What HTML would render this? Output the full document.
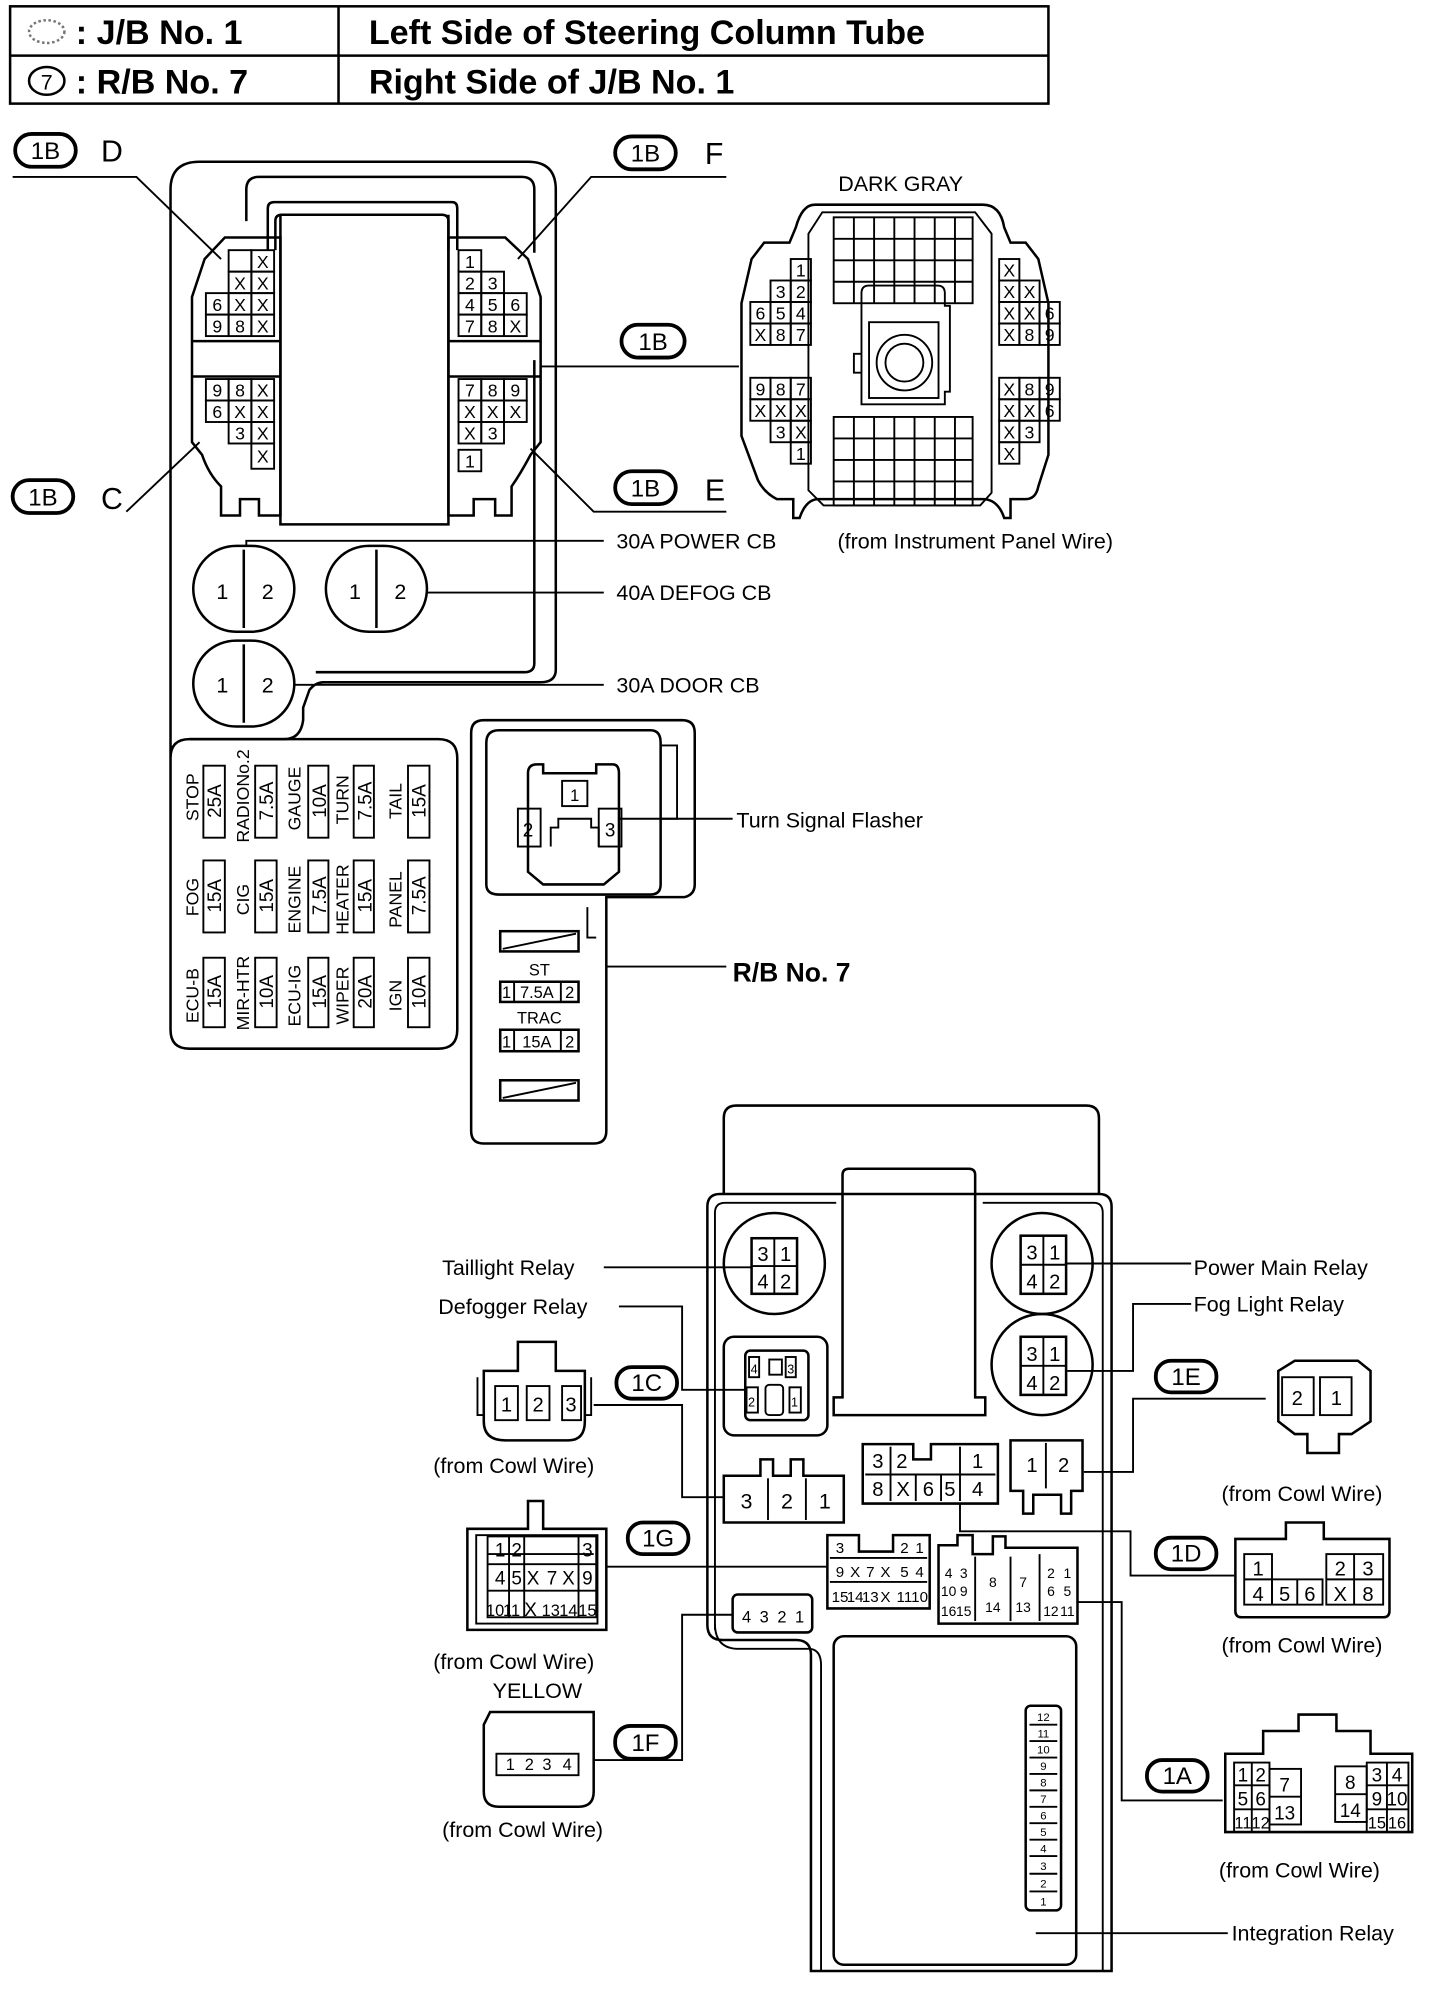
<!DOCTYPE html>
<html><head><meta charset="utf-8"><style>
html,body{margin:0;padding:0;background:#fff}
svg{display:block}
text{font-family:"Liberation Sans",sans-serif;fill:#000}
.b{font-weight:bold}
.c text{font-size:14px;text-anchor:middle}
.s{fill:none;stroke:#000;stroke-width:2}
.t{fill:none;stroke:#000;stroke-width:1.5}
.o{fill:#fff;stroke:#000;stroke-width:3}
.f text{font-size:15px;text-anchor:middle}
</style></head><body>
<svg width="1440" height="1990" viewBox="0 0 1140 1575" preserveAspectRatio="none" xmlns="http://www.w3.org/2000/svg">
<!-- header table -->
<rect x="8" y="5" width="822" height="77" class="s"/>
<line x1="8" y1="44" x2="830" y2="44" class="s"/>
<line x1="268" y1="5" x2="268" y2="82" class="s"/>
<ellipse cx="37" cy="25" rx="14" ry="9" fill="none" stroke="#777" stroke-width="2" stroke-dasharray="2 2"/>
<text x="60" y="35" class="b" font-size="27">: J/B No. 1</text>
<text x="292" y="35" class="b" font-size="27">Left Side of Steering Column Tube</text>
<ellipse cx="37" cy="64" rx="14" ry="11" class="s"/><text x="37" y="71" font-size="17" text-anchor="middle">7</text>
<text x="60" y="74" class="b" font-size="27">: R/B No. 7</text>
<text x="292" y="74" class="b" font-size="27">Right Side of J/B No. 1</text>

<!-- J/B No.1 body -->
<path d="M135,150 Q135,128 158,128 H418 Q440,128 440,150 V530 Q440,540 428,540 H256 Q250,540 245,546 L240,560 V570 Q238,585 225,585 H150" class="s"/>
<path d="M135,150 V815 Q135,830 150,830 H347 Q362,830 362,815 V600 Q362,585 347,585 H150 Q135,585 135,600" class="s"/>
<path d="M195,175 V150 Q195,140 205,140 H413 Q423,140 423,150 V200 M423,285 V525 Q423,532 415,532 H250" class="s"/>
<path d="M212,198 V165 Q212,160 217,160 H358 Q362,160 362,165 V198" class="s"/>
<path d="M218,198 V175 Q218,170 223,170 H350 Q355,170 355,175 V198" class="s"/>
<!-- center white rect -->
<path d="M222,170 V415 H355 V170" class="s"/>
<!-- left connector outline -->
<path d="M178,188 H222 V408 H205 V395 H190 V408 H175 V385 Q165,375 160,360 L152,350 V235 L162,205 Z" class="s"/>
<!-- right connector outline -->
<path d="M355,188 H400 L418,205 L428,235 V350 L420,360 Q412,375 405,385 V408 H392 V395 H375 V408 H355 Z" class="s"/>
<line x1="152" y1="270" x2="222" y2="270" class="s"/><line x1="152" y1="298" x2="222" y2="298" class="s"/>
<line x1="355" y1="270" x2="428" y2="270" class="s"/><line x1="355" y1="298" x2="428" y2="298" class="s"/>
<g class="c">
<!-- left connector cells -->
<rect x="181" y="198" width="18" height="17" class="t"/><rect x="199" y="198" width="18" height="17" class="t"/><text x="208" y="212">X</text>
<rect x="181" y="215" width="18" height="17" class="t"/><text x="190" y="229">X</text><rect x="199" y="215" width="18" height="17" class="t"/><text x="208" y="229">X</text>
<rect x="163" y="232" width="18" height="17" class="t"/><text x="172" y="246">6</text><rect x="181" y="232" width="18" height="17" class="t"/><text x="190" y="246">X</text><rect x="199" y="232" width="18" height="17" class="t"/><text x="208" y="246">X</text>
<rect x="163" y="249" width="18" height="17" class="t"/><text x="172" y="263">9</text><rect x="181" y="249" width="18" height="17" class="t"/><text x="190" y="263">8</text><rect x="199" y="249" width="18" height="17" class="t"/><text x="208" y="263">X</text>
<rect x="163" y="300" width="18" height="17" class="t"/><text x="172" y="314">9</text><rect x="181" y="300" width="18" height="17" class="t"/><text x="190" y="314">8</text><rect x="199" y="300" width="18" height="17" class="t"/><text x="208" y="314">X</text>
<rect x="163" y="317" width="18" height="17" class="t"/><text x="172" y="331">6</text><rect x="181" y="317" width="18" height="17" class="t"/><text x="190" y="331">X</text><rect x="199" y="317" width="18" height="17" class="t"/><text x="208" y="331">X</text>
<rect x="181" y="334" width="18" height="17" class="t"/><text x="190" y="348">3</text><rect x="199" y="334" width="18" height="17" class="t"/><text x="208" y="348">X</text>
<rect x="199" y="351" width="18" height="20" class="t"/><text x="208" y="366">X</text>
<!-- right connector cells -->
<rect x="363" y="198" width="18" height="17" class="t"/><text x="372" y="212">1</text>
<rect x="363" y="215" width="18" height="17" class="t"/><text x="372" y="229">2</text><rect x="381" y="215" width="18" height="17" class="t"/><text x="390" y="229">3</text>
<rect x="363" y="232" width="18" height="17" class="t"/><text x="372" y="246">4</text><rect x="381" y="232" width="18" height="17" class="t"/><text x="390" y="246">5</text><rect x="399" y="232" width="18" height="17" class="t"/><text x="408" y="246">6</text>
<rect x="363" y="249" width="18" height="17" class="t"/><text x="372" y="263">7</text><rect x="381" y="249" width="18" height="17" class="t"/><text x="390" y="263">8</text><rect x="399" y="249" width="18" height="17" class="t"/><text x="408" y="263">X</text>
<rect x="363" y="300" width="18" height="17" class="t"/><text x="372" y="314">7</text><rect x="381" y="300" width="18" height="17" class="t"/><text x="390" y="314">8</text><rect x="399" y="300" width="18" height="17" class="t"/><text x="408" y="314">9</text>
<rect x="363" y="317" width="18" height="17" class="t"/><text x="372" y="331">X</text><rect x="381" y="317" width="18" height="17" class="t"/><text x="390" y="331">X</text><rect x="399" y="317" width="18" height="17" class="t"/><text x="408" y="331">X</text>
<rect x="363" y="334" width="18" height="17" class="t"/><text x="372" y="348">X</text><rect x="381" y="334" width="18" height="17" class="t"/><text x="390" y="348">3</text>
<rect x="363" y="356" width="18" height="17" class="t"/><text x="372" y="370">1</text>
</g>
<!-- 1B labels -->
<rect x="12" y="106" width="48" height="26" rx="13" class="o"/><text x="36" y="126" font-size="19" text-anchor="middle">1B</text><text x="80" y="128" font-size="24">D</text>
<path d="M10,140 H108 L175,205" class="t"/>
<rect x="487" y="108" width="48" height="26" rx="13" class="o"/><text x="511" y="128" font-size="19" text-anchor="middle">1B</text><text x="558" y="130" font-size="24">F</text>
<path d="M575,140 H468 L410,205" class="t"/>
<rect x="10" y="380" width="48" height="26" rx="13" class="o"/><text x="34" y="400" font-size="19" text-anchor="middle">1B</text><text x="80" y="403" font-size="24">C</text>
<path d="M100,405 L158,350" class="t"/>
<rect x="487" y="373" width="48" height="26" rx="13" class="o"/><text x="511" y="393" font-size="19" text-anchor="middle">1B</text><text x="558" y="396" font-size="24">E</text>
<path d="M575,405 H470 L420,355" class="t"/>
<rect x="492" y="257" width="50" height="26" rx="13" class="o"/><text x="517" y="277" font-size="19" text-anchor="middle">1B</text>
<path d="M428,290 H585" class="t"/>

<!-- dark gray connector -->
<text x="713" y="151" font-size="17" text-anchor="middle">DARK GRAY</text>
<path d="M645,162 H778 Q792,162 795,180 L800,192 H812 L822,205 L830,240 V360 L822,385 Q820,395 812,395 H800 V410 H795 Q790,395 778,395 H648 Q638,395 633,410 H628 V395 H615 Q605,390 600,380 L587,345 V240 L595,205 L605,192 H625 L630,180 Q635,162 645,162 Z" class="s"/>
<path d="M651,168 H772 L785,185 V390 L776,400 H652 L640,388 V185 Z" class="t"/>
<g class="t">
<rect x="660" y="172" width="110" height="68"/><line x1="676" y1="172" x2="676" y2="240"/><line x1="692" y1="172" x2="692" y2="240"/><line x1="708" y1="172" x2="708" y2="240"/><line x1="724" y1="172" x2="724" y2="240"/><line x1="740" y1="172" x2="740" y2="240"/><line x1="756" y1="172" x2="756" y2="240"/><line x1="660" y1="189" x2="770" y2="189"/><line x1="660" y1="206" x2="770" y2="206"/><line x1="660" y1="223" x2="770" y2="223"/>
<rect x="660" y="330" width="110" height="70"/><line x1="676" y1="330" x2="676" y2="400"/><line x1="692" y1="330" x2="692" y2="400"/><line x1="708" y1="330" x2="708" y2="400"/><line x1="724" y1="330" x2="724" y2="400"/><line x1="740" y1="330" x2="740" y2="400"/><line x1="756" y1="330" x2="756" y2="400"/><line x1="660" y1="347" x2="770" y2="347"/><line x1="660" y1="364" x2="770" y2="364"/><line x1="660" y1="381" x2="770" y2="381"/>
<path d="M682,320 V232 Q682,226 688,226 H742 Q748,226 748,232 V242 H752 V310 H748 V320 Z"/>
<rect x="688" y="255" width="55" height="60"/>
<circle cx="716" cy="287" r="22"/><circle cx="716" cy="287" r="15"/>
<path d="M682,280 H676 V295 H682"/>
</g>
<g class="c">
<rect x="626" y="205" width="16" height="17" class="t"/><text x="634" y="219">1</text>
<rect x="610" y="222" width="16" height="17" class="t"/><text x="618" y="236">3</text><rect x="626" y="222" width="16" height="17" class="t"/><text x="634" y="236">2</text>
<rect x="594" y="239" width="16" height="17" class="t"/><text x="602" y="253">6</text><rect x="610" y="239" width="16" height="17" class="t"/><text x="618" y="253">5</text><rect x="626" y="239" width="16" height="17" class="t"/><text x="634" y="253">4</text>
<rect x="594" y="256" width="16" height="17" class="t"/><text x="602" y="270">X</text><rect x="610" y="256" width="16" height="17" class="t"/><text x="618" y="270">8</text><rect x="626" y="256" width="16" height="17" class="t"/><text x="634" y="270">7</text>
<rect x="594" y="299" width="16" height="17" class="t"/><text x="602" y="313">9</text><rect x="610" y="299" width="16" height="17" class="t"/><text x="618" y="313">8</text><rect x="626" y="299" width="16" height="17" class="t"/><text x="634" y="313">7</text>
<rect x="594" y="316" width="16" height="17" class="t"/><text x="602" y="330">X</text><rect x="610" y="316" width="16" height="17" class="t"/><text x="618" y="330">X</text><rect x="626" y="316" width="16" height="17" class="t"/><text x="634" y="330">X</text>
<rect x="610" y="333" width="16" height="17" class="t"/><text x="618" y="347">3</text><rect x="626" y="333" width="16" height="17" class="t"/><text x="634" y="347">X</text>
<rect x="626" y="350" width="16" height="17" class="t"/><text x="634" y="364">1</text>
<rect x="791" y="205" width="16" height="17" class="t"/><text x="799" y="219">X</text>
<rect x="791" y="222" width="16" height="17" class="t"/><text x="799" y="236">X</text><rect x="807" y="222" width="16" height="17" class="t"/><text x="815" y="236">X</text>
<rect x="791" y="239" width="16" height="17" class="t"/><text x="799" y="253">X</text><rect x="807" y="239" width="16" height="17" class="t"/><text x="815" y="253">X</text><rect x="823" y="239" width="16" height="17" class="t"/><text x="831" y="253">6</text>
<rect x="791" y="256" width="16" height="17" class="t"/><text x="799" y="270">X</text><rect x="807" y="256" width="16" height="17" class="t"/><text x="815" y="270">8</text><rect x="823" y="256" width="16" height="17" class="t"/><text x="831" y="270">9</text>
<rect x="791" y="299" width="16" height="17" class="t"/><text x="799" y="313">X</text><rect x="807" y="299" width="16" height="17" class="t"/><text x="815" y="313">8</text><rect x="823" y="299" width="16" height="17" class="t"/><text x="831" y="313">9</text>
<rect x="791" y="316" width="16" height="17" class="t"/><text x="799" y="330">X</text><rect x="807" y="316" width="16" height="17" class="t"/><text x="815" y="330">X</text><rect x="823" y="316" width="16" height="17" class="t"/><text x="831" y="330">6</text>
<rect x="791" y="333" width="16" height="17" class="t"/><text x="799" y="347">X</text><rect x="807" y="333" width="16" height="17" class="t"/><text x="815" y="347">3</text>
<rect x="791" y="350" width="16" height="17" class="t"/><text x="799" y="364">X</text>
</g>
<text x="663" y="434" font-size="17">(from Instrument Panel Wire)</text>

<!-- circuit breakers -->
<g class="s">
<rect x="153" y="432" width="80" height="68" rx="34"/><line x1="193" y1="435" x2="193" y2="497"/>
<rect x="258" y="432" width="80" height="68" rx="34"/><line x1="298" y1="435" x2="298" y2="497"/>
<rect x="153" y="507" width="80" height="68" rx="34"/><line x1="193" y1="510" x2="193" y2="572"/>
</g>
<g font-size="17" text-anchor="middle">
<text x="176" y="474">1</text><text x="212" y="474">2</text><text x="281" y="474">1</text><text x="317" y="474">2</text>
<text x="176" y="548">1</text><text x="212" y="548">2</text>
</g>
<path d="M195,432 V428 H478" class="t"/><path d="M338,469 H478" class="t"/><path d="M233,542 H478" class="t"/>
<text x="488" y="434" font-size="17">30A POWER CB</text>
<text x="488" y="475" font-size="17">40A DEFOG CB</text>
<text x="488" y="548" font-size="17">30A DOOR CB</text>

<!-- fuses -->
<g class="t">
<rect x="161" y="606" width="17" height="57"/><rect x="202" y="606" width="17" height="57"/><rect x="244" y="606" width="16" height="57"/><rect x="280" y="606" width="16" height="57"/><rect x="323" y="606" width="17" height="57"/>
<rect x="161" y="681" width="17" height="57"/><rect x="202" y="681" width="17" height="57"/><rect x="244" y="681" width="16" height="57"/><rect x="280" y="681" width="16" height="57"/><rect x="323" y="681" width="17" height="57"/>
<rect x="161" y="758" width="17" height="55"/><rect x="202" y="758" width="17" height="55"/><rect x="244" y="758" width="16" height="55"/><rect x="280" y="758" width="16" height="55"/><rect x="323" y="758" width="17" height="55"/>
</g>
<g class="f">
<text transform="translate(175,634) rotate(-90)">25A</text><text transform="translate(216,634) rotate(-90)">7.5A</text><text transform="translate(258,634) rotate(-90)">10A</text><text transform="translate(294,634) rotate(-90)">7.5A</text><text transform="translate(337,634) rotate(-90)">15A</text>
<text transform="translate(175,709) rotate(-90)">15A</text><text transform="translate(216,709) rotate(-90)">15A</text><text transform="translate(258,709) rotate(-90)">7.5A</text><text transform="translate(294,709) rotate(-90)">15A</text><text transform="translate(337,709) rotate(-90)">7.5A</text>
<text transform="translate(175,785) rotate(-90)">15A</text><text transform="translate(216,785) rotate(-90)">10A</text><text transform="translate(258,785) rotate(-90)">15A</text><text transform="translate(294,785) rotate(-90)">20A</text><text transform="translate(337,785) rotate(-90)">10A</text>
</g>
<g font-size="14" text-anchor="middle">
<text transform="translate(157,631) rotate(-90)">STOP</text><text transform="translate(197,630) rotate(-90)">RADIONo.2</text><text transform="translate(238,632) rotate(-90)">GAUGE</text><text transform="translate(276,633) rotate(-90)">TURN</text><text transform="translate(318,634) rotate(-90)">TAIL</text>
<text transform="translate(157,710) rotate(-90)">FOG</text><text transform="translate(197,712) rotate(-90)">CIG</text><text transform="translate(238,712) rotate(-90)">ENGINE</text><text transform="translate(276,712) rotate(-90)">HEATER</text><text transform="translate(318,712) rotate(-90)">PANEL</text>
<text transform="translate(157,788) rotate(-90)">ECU-B</text><text transform="translate(197,786) rotate(-90)">MIR-HTR</text><text transform="translate(238,788) rotate(-90)">ECU-IG</text><text transform="translate(276,788) rotate(-90)">WIPER</text><text transform="translate(318,788) rotate(-90)">IGN</text>
</g>

<!-- R/B No.7 -->
<path d="M373,580 Q373,570 383,570 H540 Q550,570 550,580 V700 Q550,708 542,710 H480 V895 Q480,905 470,905 H383 Q373,905 373,895 Z" class="s"/>
<path d="M385,588 Q385,578 395,578 H515 Q523,578 523,588 V700 Q523,708 515,708 H395 Q385,708 385,700 Z" class="s"/>
<path d="M523,590 H536 V648 H523" class="t"/><path d="M465,718 V742 H472" class="t"/>
<path d="M418,612 Q418,605 425,605 H430 V612 H472 V605 H485 Q490,605 490,612 V690 L478,700 H430 L418,690 Z" class="s"/>
<rect x="410" y="640" width="18" height="30" class="t"/><text x="418" y="662" font-size="15" text-anchor="middle">2</text>
<rect x="474" y="640" width="18" height="30" class="t"/><text x="483" y="662" font-size="15" text-anchor="middle">3</text>
<rect x="445" y="618" width="20" height="20" class="t"/><text x="455" y="634" font-size="13" text-anchor="middle">1</text>
<path d="M436,670 V655 H442 V648 H468 V655 H474 V670" class="t"/>
<path d="M490,648 H580" class="t"/><text x="583" y="655" font-size="17">Turn Signal Flasher</text>
<rect x="396" y="737" width="62" height="16" class="s"/><line x1="398" y1="751" x2="456" y2="739" class="t"/>
<text x="427" y="772" font-size="13" text-anchor="middle">ST</text>
<rect x="396" y="777" width="62" height="16" class="s"/><line x1="407" y1="777" x2="407" y2="793" class="t"/><line x1="444" y1="777" x2="444" y2="793" class="t"/>
<text x="401" y="790" font-size="13" text-anchor="middle">1</text><text x="425" y="790" font-size="13" text-anchor="middle">7.5A</text><text x="451" y="790" font-size="13" text-anchor="middle">2</text>
<text x="427" y="810" font-size="13" text-anchor="middle">TRAC</text>
<rect x="396" y="815" width="62" height="17" class="s"/><line x1="407" y1="815" x2="407" y2="832" class="t"/><line x1="444" y1="815" x2="444" y2="832" class="t"/>
<text x="401" y="829" font-size="13" text-anchor="middle">1</text><text x="425" y="829" font-size="13" text-anchor="middle">15A</text><text x="451" y="829" font-size="13" text-anchor="middle">2</text>
<rect x="396" y="855" width="62" height="16" class="s"/><line x1="398" y1="869" x2="456" y2="857" class="t"/>
<path d="M480,765 H575" class="t"/><text x="580" y="777" class="b" font-size="21">R/B No. 7</text>

<!-- lower J/B -->
<path d="M573,945 V885 Q573,875 583,875 H860 Q870,875 870,885 V945" class="s"/>
<path d="M560,955 Q560,945 570,945 H870 Q880,945 880,955 V1560 H642 V1310 Q642,1298 630,1298 H572 Q560,1298 560,1286 Z" class="s"/>
<path d="M566,1290 V960 Q566,952 574,952 H662 M778,952 H866 Q873,952 873,960 V1560" class="t"/>
<path d="M566,1285 Q566,1305 585,1305 H640 Q650,1305 650,1318 V1560" class="t"/>
<path d="M667,1106 V930 Q667,925 672,925 H767 Q772,925 772,930 V1106 H780 V1120 H660 V1106 Z" class="s"/>
<rect x="660" y="1295" width="192" height="260" rx="8" class="s"/>
<rect x="660" y="1295" width="192" height="255" rx="8" class="t" transform="translate(5,5) scale(0.99)" opacity="0"/>
<!-- relays circles -->
<circle cx="613" cy="1000" r="40" class="s"/>
<rect x="595" y="980" width="36" height="44" class="s"/><line x1="613" y1="980" x2="613" y2="1024" class="t"/><line x1="595" y1="1002" x2="631" y2="1002" class="t"/>
<text x="604" y="998" font-size="16" text-anchor="middle">3</text><text x="622" y="998" font-size="16" text-anchor="middle">1</text><text x="604" y="1020" font-size="16" text-anchor="middle">4</text><text x="622" y="1020" font-size="16" text-anchor="middle">2</text>
<circle cx="825" cy="1000" r="40" class="s"/>
<rect x="808" y="978" width="36" height="46" class="s"/><line x1="826" y1="978" x2="826" y2="1024" class="t"/><line x1="808" y1="1001" x2="844" y2="1001" class="t"/>
<text x="817" y="997" font-size="16" text-anchor="middle">3</text><text x="835" y="997" font-size="16" text-anchor="middle">1</text><text x="817" y="1020" font-size="16" text-anchor="middle">4</text><text x="835" y="1020" font-size="16" text-anchor="middle">2</text>
<circle cx="825" cy="1080" r="40" class="s"/>
<rect x="808" y="1058" width="36" height="46" class="s"/><line x1="826" y1="1058" x2="826" y2="1104" class="t"/><line x1="808" y1="1081" x2="844" y2="1081" class="t"/>
<text x="817" y="1077" font-size="16" text-anchor="middle">3</text><text x="835" y="1077" font-size="16" text-anchor="middle">1</text><text x="817" y="1100" font-size="16" text-anchor="middle">4</text><text x="835" y="1100" font-size="16" text-anchor="middle">2</text>
<!-- defogger relay -->
<rect x="573" y="1058" width="82" height="78" rx="8" class="s"/>
<rect x="590" y="1069" width="50" height="55" rx="4" class="s"/>
<rect x="593" y="1074" width="8" height="16" class="t"/><text x="597" y="1087" font-size="10" text-anchor="middle">4</text>
<rect x="609" y="1076" width="10" height="12" class="t"/>
<rect x="622" y="1074" width="8" height="16" class="t"/><text x="626" y="1087" font-size="10" text-anchor="middle">3</text>
<rect x="591" y="1098" width="9" height="20" class="t"/><text x="595" y="1113" font-size="10" text-anchor="middle">2</text>
<rect x="606" y="1096" width="14" height="24" rx="3" class="t"/>
<rect x="625" y="1098" width="9" height="20" class="t"/><text x="629" y="1113" font-size="10" text-anchor="middle">1</text>
<!-- 1C connector in box -->
<path d="M573,1168 H602 V1155 H612 V1168 H626 V1155 H636 V1168 H668 V1205 H573 Z" class="s"/>
<line x1="608" y1="1170" x2="608" y2="1203" class="t"/><line x1="638" y1="1170" x2="638" y2="1203" class="t"/>
<text x="591" y="1194" font-size="17" text-anchor="middle">3</text><text x="623" y="1194" font-size="17" text-anchor="middle">2</text><text x="653" y="1194" font-size="17" text-anchor="middle">1</text>
<!-- 1D connector in box -->
<path d="M683,1143 H723 V1155 H737 V1143 H790 V1190 H683 Z" class="s"/>
<line x1="685" y1="1167" x2="788" y2="1167" class="t"/><line x1="705" y1="1145" x2="705" y2="1188" class="t"/><line x1="725" y1="1167" x2="725" y2="1188" class="t"/><line x1="745" y1="1167" x2="745" y2="1188" class="t"/><line x1="760" y1="1145" x2="760" y2="1188" class="t"/>
<g font-size="16" text-anchor="middle"><text x="695" y="1162">3</text><text x="714" y="1162">2</text><text x="774" y="1162">1</text>
<text x="695" y="1184">8</text><text x="715" y="1184">X</text><text x="735" y="1184">6</text><text x="752" y="1184">5</text><text x="774" y="1184">4</text></g>
<!-- 1E socket -->
<path d="M800,1140 H857 V1180 H848 V1198 H840 V1183 H818 V1198 H810 V1180 H800 Z" class="s"/>
<line x1="828" y1="1142" x2="828" y2="1178" class="t"/>
<text x="817" y="1165" font-size="16" text-anchor="middle">1</text><text x="842" y="1165" font-size="16" text-anchor="middle">2</text>
<!-- 1G socket -->
<path d="M655,1215 H680 V1228 H707 V1215 H736 V1273 H655 Z" class="s"/>
<line x1="657" y1="1233" x2="734" y2="1233" class="t"/><line x1="657" y1="1252" x2="734" y2="1252" class="t"/>
<g font-size="12" text-anchor="middle"><text x="665" y="1229">3</text><text x="716" y="1229">2</text><text x="728" y="1229">1</text>
<text x="665" y="1248">9</text><text x="677" y="1248">X</text><text x="689" y="1248">7</text><text x="701" y="1248">X</text><text x="716" y="1248">5</text><text x="728" y="1248">4</text>
<text x="665" y="1268">15</text><text x="677" y="1268">14</text><text x="689" y="1268">13</text><text x="701" y="1268">X</text><text x="716" y="1268">11</text><text x="728" y="1268">10</text></g>
<!-- 1A socket -->
<path d="M743,1223 H758 V1215 H770 V1230 H786 V1216 H796 V1225 H853 V1285 H743 Z" class="s"/>
<line x1="772" y1="1232" x2="772" y2="1283" class="t"/><line x1="800" y1="1232" x2="800" y2="1283" class="t"/><line x1="823" y1="1230" x2="823" y2="1283" class="t"/>
<g font-size="11" text-anchor="middle"><text x="751" y="1249">4</text><text x="763" y="1249">3</text><text x="786" y="1256">8</text><text x="810" y="1256">7</text><text x="832" y="1249">2</text><text x="845" y="1249">1</text>
<text x="751" y="1263">10</text><text x="763" y="1263">9</text><text x="832" y="1263">6</text><text x="845" y="1263">5</text>
<text x="751" y="1279">16</text><text x="763" y="1279">15</text><text x="786" y="1276">14</text><text x="810" y="1276">13</text><text x="832" y="1279">12</text><text x="845" y="1279">11</text></g>
<!-- 1F socket -->
<rect x="580" y="1262" width="63" height="30" rx="4" class="s"/>
<g font-size="13" text-anchor="middle"><text x="591" y="1284">4</text><text x="605" y="1284">3</text><text x="619" y="1284">2</text><text x="633" y="1284">1</text></g>
<!-- integration relay -->
<rect x="812" y="1350" width="28" height="162" rx="4" class="s"/>
<g font-size="9" text-anchor="middle">
<text x="826" y="1362">12</text><text x="826" y="1375">11</text><text x="826" y="1388">10</text><text x="826" y="1401">9</text><text x="826" y="1414">8</text><text x="826" y="1427">7</text><text x="826" y="1440">6</text><text x="826" y="1453">5</text><text x="826" y="1466">4</text><text x="826" y="1480">3</text><text x="826" y="1494">2</text><text x="826" y="1508">1</text></g>
<g class="t"><line x1="815" y1="1365" x2="837" y2="1365"/><line x1="815" y1="1378" x2="837" y2="1378"/><line x1="815" y1="1391" x2="837" y2="1391"/><line x1="815" y1="1404" x2="837" y2="1404"/><line x1="815" y1="1417" x2="837" y2="1417"/><line x1="815" y1="1430" x2="837" y2="1430"/><line x1="815" y1="1443" x2="837" y2="1443"/><line x1="815" y1="1456" x2="837" y2="1456"/><line x1="815" y1="1469" x2="837" y2="1469"/><line x1="815" y1="1483" x2="837" y2="1483"/><line x1="815" y1="1497" x2="837" y2="1497"/></g>

<!-- labels lower -->
<g font-size="17">
<text x="350" y="1009">Taillight Relay</text>
<text x="347" y="1040">Defogger Relay</text>
<text x="945" y="1009">Power Main Relay</text>
<text x="945" y="1038">Fog Light Relay</text>
<text x="343" y="1166">(from Cowl Wire)</text>
<text x="967" y="1188">(from Cowl Wire)</text>
<text x="967" y="1308">(from Cowl Wire)</text>
<text x="343" y="1321">(from Cowl Wire)</text>
<text x="390" y="1344">YELLOW</text>
<text x="350" y="1454">(from Cowl Wire)</text>
<text x="965" y="1486">(from Cowl Wire)</text>
<text x="975" y="1536">Integration Relay</text>
</g>
<g class="t">
<path d="M478,1003 H595"/>
<path d="M490,1034 H540 V1100 H590"/>
<path d="M843,1000 H943"/>
<path d="M943,1032 H897 V1085 H845"/>
<path d="M1002,1107 H897 V1165 H858"/>
<path d="M760,1190 V1212 H895 V1247 H977"/>
<path d="M470,1112 H540 V1185 H573"/>
<path d="M480,1240 H655"/>
<path d="M470,1393 H540 V1278 H580"/>
<path d="M853,1268 H888 V1425 H968"/>
<path d="M820,1530 H972"/>
</g>
<rect x="488" y="1082" width="48" height="25" rx="12" class="o"/><text x="512" y="1101" font-size="19" text-anchor="middle">1C</text>
<rect x="497" y="1205" width="48" height="25" rx="12" class="o"/><text x="521" y="1224" font-size="19" text-anchor="middle">1G</text>
<rect x="487" y="1366" width="48" height="26" rx="12" class="o"/><text x="511" y="1386" font-size="19" text-anchor="middle">1F</text>
<rect x="915" y="1077" width="48" height="25" rx="12" class="o"/><text x="939" y="1096" font-size="19" text-anchor="middle">1E</text>
<rect x="915" y="1217" width="48" height="25" rx="12" class="o"/><text x="939" y="1236" font-size="19" text-anchor="middle">1D</text>
<rect x="908" y="1393" width="48" height="25" rx="12" class="o"/><text x="932" y="1412" font-size="19" text-anchor="middle">1A</text>

<!-- external connector 1C -->
<path d="M383,1085 H410 V1062 H440 V1085 H463 V1125 Q463,1140 450,1140 H400 Q383,1140 383,1125 Z" class="s"/>
<path d="M378,1090 V1120 H383" class="t"/><path d="M468,1090 V1120 H463" class="t"/>
<rect x="392" y="1097" width="18" height="27" class="t"/><rect x="417" y="1097" width="18" height="27" class="t"/><rect x="445" y="1097" width="15" height="27" class="t"/>
<text x="401" y="1117" font-size="16" text-anchor="middle">1</text><text x="426" y="1117" font-size="16" text-anchor="middle">2</text><text x="452" y="1117" font-size="16" text-anchor="middle">3</text>
<!-- external 1E -->
<path d="M1012,1085 L1025,1077 H1075 L1085,1085 V1125 L1070,1135 H1060 V1150 H1035 V1135 H1025 L1012,1125 Z" class="s"/>
<rect x="1015" y="1090" width="25" height="30" class="t"/><rect x="1045" y="1090" width="25" height="30" class="t"/>
<text x="1027" y="1112" font-size="16" text-anchor="middle">2</text><text x="1058" y="1112" font-size="16" text-anchor="middle">1</text>
<!-- external 1D -->
<path d="M978,1218 H1018 V1205 H1048 V1218 H1100 V1275 Q1100,1280 1095,1280 H983 Q978,1280 978,1275 Z" class="s"/>
<g class="t"><rect x="985" y="1230" width="22" height="40"/><line x1="985" y1="1250" x2="1007" y2="1250"/><rect x="1007" y="1250" width="40" height="20"/><line x1="1027" y1="1250" x2="1027" y2="1270"/><rect x="1050" y="1230" width="45" height="40"/><line x1="1072" y1="1230" x2="1072" y2="1270"/><line x1="1050" y1="1250" x2="1095" y2="1250"/></g>
<g font-size="16" text-anchor="middle"><text x="996" y="1247">1</text><text x="996" y="1267">4</text><text x="1017" y="1267">5</text><text x="1037" y="1267">6</text><text x="1061" y="1247">2</text><text x="1083" y="1247">3</text><text x="1061" y="1267">X</text><text x="1083" y="1267">8</text></g>
<!-- external 1G -->
<path d="M370,1210 V1290 H480 V1210 H430 V1188 H418 V1210 Z" class="s"/>
<rect x="377" y="1215" width="96" height="70" class="t"/>
<g class="t"><line x1="386" y1="1230" x2="470" y2="1230"/></g>
<g font-size="15" text-anchor="middle">
<text x="396" y="1232">1</text><text x="409" y="1232">2</text><text x="465" y="1232">3</text>
<text x="396" y="1254">4</text><text x="409" y="1254">5</text><text x="422" y="1254">X</text><text x="437" y="1254">7</text><text x="450" y="1254">X</text><text x="465" y="1254">9</text>
<text x="392" y="1279" font-size="13">10</text><text x="405" y="1279" font-size="13">11</text><text x="420" y="1279">X</text><text x="436" y="1279" font-size="13">13</text><text x="450" y="1279" font-size="13">14</text><text x="465" y="1279" font-size="13">15</text></g>
<g class="t"><rect x="386" y="1216" width="86" height="64"/><line x1="386" y1="1238" x2="472" y2="1238"/><line x1="386" y1="1259" x2="472" y2="1259"/><line x1="403" y1="1216" x2="403" y2="1280"/><line x1="415" y1="1216" x2="415" y2="1280"/><line x1="458" y1="1216" x2="458" y2="1280"/></g>
<!-- external 1F -->
<path d="M388,1355 H470 V1418 Q470,1430 458,1430 H395 Q383,1430 383,1418 V1365 Z" class="s"/>
<rect x="393" y="1388" width="65" height="17" class="t"/>
<g font-size="13" text-anchor="middle"><text x="404" y="1401">1</text><text x="419" y="1401">2</text><text x="433" y="1401">3</text><text x="449" y="1401">4</text></g>
<!-- external 1A -->
<path d="M970,1388 H1000 V1370 H1028 V1357 H1058 V1370 H1085 V1388 H1118 V1450 H970 Z" class="s"/>
<g class="t"><rect x="977" y="1395" width="28" height="55"/><line x1="991" y1="1395" x2="991" y2="1450"/><line x1="977" y1="1413" x2="1005" y2="1413"/><line x1="977" y1="1432" x2="1005" y2="1432"/><rect x="1005" y="1400" width="25" height="44"/><line x1="1005" y1="1422" x2="1030" y2="1422"/>
<rect x="1057" y="1398" width="25" height="44"/><line x1="1057" y1="1420" x2="1082" y2="1420"/><rect x="1082" y="1395" width="33" height="55"/><line x1="1098" y1="1395" x2="1098" y2="1450"/><line x1="1082" y1="1413" x2="1115" y2="1413"/><line x1="1082" y1="1432" x2="1115" y2="1432"/></g>
<g font-size="15" text-anchor="middle"><text x="984" y="1410">1</text><text x="998" y="1410">2</text><text x="984" y="1429">5</text><text x="998" y="1429">6</text><text x="984" y="1447" font-size="13">11</text><text x="998" y="1447" font-size="13">12</text>
<text x="1017" y="1418">7</text><text x="1017" y="1440">13</text><text x="1069" y="1416">8</text><text x="1069" y="1438">14</text>
<text x="1090" y="1410">3</text><text x="1106" y="1410">4</text><text x="1090" y="1429">9</text><text x="1106" y="1429">10</text><text x="1090" y="1447" font-size="13">15</text><text x="1106" y="1447" font-size="13">16</text></g>
</svg>
</body></html>
